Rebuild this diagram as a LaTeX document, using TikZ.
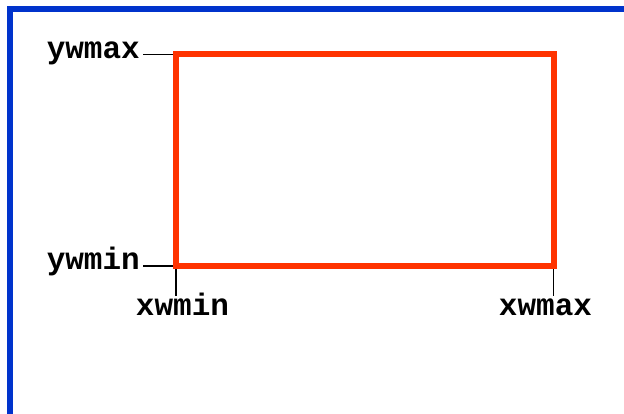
\documentclass[tikz,border=0pt]{standalone}
\usepackage{fontspec}
\setmonofont{Liberation Mono}
\usepackage{tikz}
\definecolor{framblue}{HTML}{0033CC}
\definecolor{winred}{HTML}{FF3300}
\tikzstyle{label} = [font=\ttfamily\bfseries\fontsize{31}{31}\selectfont, inner sep=3pt]
\tikzstyle{tick} = [line width=1.3pt, black]
\tikzstyle{window} = [line width=6pt, draw=winred, miter limit=10]

\begin{document}
\begin{tikzpicture}[x=1pt, y=-1pt]
        \useasboundingbox (0,0) rectangle (624,414);
        % frame
        \draw [line width=6pt, framblue] (9.7,414) -- (9.7,9.5) -- (624,9.5);

        % window corners
        \coordinate (tl) at (176,54.5);
        \coordinate (tr) at (553.5,54.5);
        \coordinate (bl) at (176,266);
        \coordinate (br) at (553.5,266);
        \coordinate (blt) at (176,296);
        \coordinate (brt) at (553.5,296);

        \node (ywmax) [label, anchor=mid east] at (143,56) {ywmax};
        \node (ywmin) [label, anchor=mid east] at (143,267.5) {ywmin};
        \node (xwmin) [label, anchor=mid] at (182.5,313) {xwmin};
        \node (xwmax) [label, anchor=mid] at (545.5,313) {xwmax};

        \draw [tick] (ywmax.mid east |- tl) -- (tl);
        \draw [tick] (ywmin.mid east |- bl) -- (bl);
        \draw [tick] (bl) -- (blt);
        \draw [tick] (br) -- (brt);

        \draw [window] (bl) rectangle (tr);
    \end{tikzpicture}
\end{document}
